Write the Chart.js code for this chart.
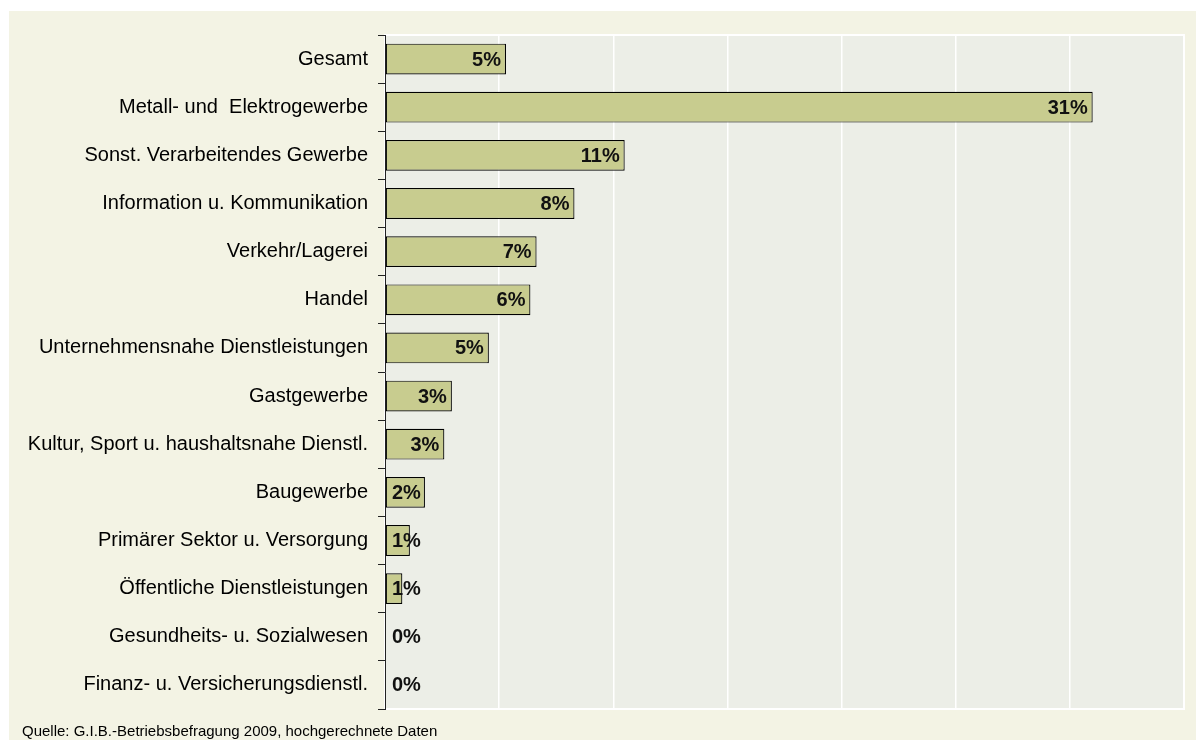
<!DOCTYPE html>
<html>
<head>
<meta charset="utf-8">
<script src="https://cdn.jsdelivr.net/npm/chart.js@4"></script>
<style>
  html, body { margin: 0; padding: 0; background: #ffffff; }
  #wrap { width: 1196px; height: 740px; position: relative; }
</style>
</head>
<body>
<div id="wrap"><canvas id="chart" width="1196" height="740"></canvas></div>
<script>
// Kategorien und Werte (Anteil in %)
const categories = [
    'Gesamt',
    'Metall- und  Elektrogewerbe',
    'Sonst. Verarbeitendes Gewerbe',
    'Information u. Kommunikation',
    'Verkehr/Lagerei',
    'Handel',
    'Unternehmensnahe Dienstleistungen',
    'Gastgewerbe',
    'Kultur, Sport u. haushaltsnahe Dienstl.',
    'Baugewerbe',
    'Primärer Sektor u. Versorgung',
    'Öffentliche Dienstleistungen',
    'Gesundheits- u. Sozialwesen',
    'Finanz- u. Versicherungsdienstl.'
];
const values = [5.3, 31.0, 10.5, 8.3, 6.64, 6.37, 4.55, 2.93, 2.6, 1.75, 1.09, 0.76, 0, 0];
const valueLabels = ['5%', '31%', '11%', '8%', '7%', '6%', '5%', '3%', '3%', '2%', '1%', '1%', '0%', '0%'];
const sourceText = 'Quelle: G.I.B.-Betriebsbefragung 2009, hochgerechnete Daten';

const backgroundPlugin = {
    id: 'hintergrund',
    beforeDraw(chart) {
        const ctx = chart.ctx;
        const area = chart.chartArea;
        ctx.save();
        ctx.fillStyle = '#f3f3e4';
        ctx.fillRect(9, 11, chart.width - 9, chart.height - 11);
        ctx.fillStyle = '#eceee7';
        ctx.fillRect(area.left, area.top, area.right - area.left, area.bottom - area.top);
        ctx.strokeStyle = '#ffffff';
        ctx.lineWidth = 2;
        ctx.strokeRect(area.left, area.top, area.right - area.left, area.bottom - area.top);
        ctx.restore();
    },
    afterDraw(chart) {
        const ctx = chart.ctx;
        ctx.save();
        ctx.fillStyle = '#000000';
        ctx.font = '15px "Liberation Sans", Arial, sans-serif';
        ctx.textAlign = 'left';
        ctx.textBaseline = 'alphabetic';
        ctx.fillText(sourceText, 22, 736);
        ctx.restore();
    }
};

const labelPlugin = {
    id: 'werte',
    afterDatasetsDraw(chart) {
        const ctx = chart.ctx;
        const meta = chart.getDatasetMeta(0);
        ctx.save();
        ctx.font = 'bold 20px "Liberation Sans", Arial, sans-serif';
        ctx.fillStyle = '#111111';
        ctx.textAlign = 'right';
        ctx.textBaseline = 'middle';
        meta.data.forEach((bar, index) => {
            const text = valueLabels[index];
            const w = ctx.measureText(text).width;
            const x = Math.max(bar.x - 5, chart.chartArea.left + 7 + w);
            ctx.fillText(text, x, bar.y + 1);
        });
        ctx.restore();
    }
};

new Chart(document.getElementById('chart'), {
    type: 'bar',
    data: {
        labels: categories,
        datasets: [{
            data: values,
            backgroundColor: '#c8cc8f',
            borderColor: '#000000',
            borderWidth: 1.2,
            borderSkipped: false,
            categoryPercentage: 1,
            barPercentage: 0.64
        }]
    },
    options: {
        indexAxis: 'y',
        responsive: false,
        animation: false,
        layout: { padding: { left: 0, right: 12, top: 35, bottom: 31 } },
        plugins: {
            legend: { display: false },
            tooltip: { enabled: false }
        },
        scales: {
            x: {
                min: 0,
                max: 35,
                ticks: { display: false, stepSize: 5 },
                grid: { color: '#ffffff', lineWidth: 1.5, drawTicks: false },
                border: { display: false },
                afterFit(scale) { scale.height = 0; }
            },
            y: {
                ticks: {
                    color: '#000000',
                    padding: 10,
                    font: { family: '"Liberation Sans", Arial, sans-serif', size: 20 }
                },
                grid: {
                    offset: true,
                    drawOnChartArea: false,
                    tickLength: 7,
                    color: '#222222'
                },
                border: { color: '#222222', width: 1 },
                afterFit(scale) { scale.width = 385; }
            }
        }
    },
    plugins: [backgroundPlugin, labelPlugin]
});
</script>
</body>
</html>
